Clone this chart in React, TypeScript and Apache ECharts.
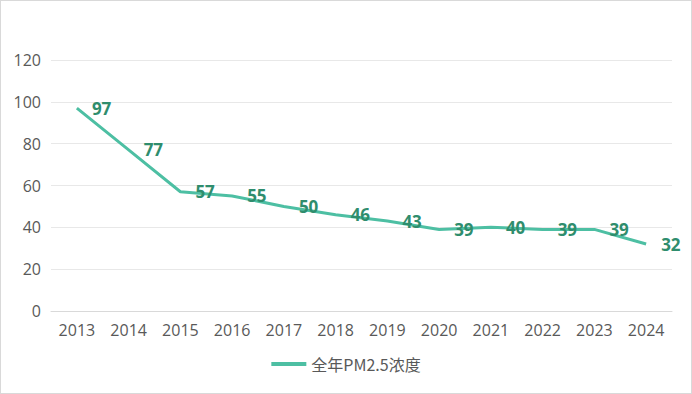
import React, { useEffect, useRef } from "react";
import * as echarts from "echarts";

const years = ["2013", "2014", "2015", "2016", "2017", "2018", "2019", "2020", "2021", "2022", "2023", "2024"];
const pm25 = [97, 77, 57, 55, 50, 46, 43, 39, 40, 39, 39, 32];
const seriesName = "全年PM2.5浓度";

export default function App() {
  const ref = useRef<HTMLDivElement>(null);
  useEffect(() => {
    if (!ref.current) return;
    const chart = echarts.init(ref.current, undefined, { renderer: "svg" });
    chart.setOption({
      animation: false,
      backgroundColor: "#ffffff",
      textStyle: { fontFamily: "'Open Sans', 'Noto Sans CJK SC', sans-serif" },
      grid: { left: 50, right: 19, top: 59, bottom: 82 },
      legend: {
        bottom: 16,
        left: "center",
        itemWidth: 35,
        itemHeight: 4,
        itemGap: 10,
        icon: "rect",
        textStyle: { color: "#595959", fontSize: 16, fontFamily: "'Noto Sans CJK SC', 'Open Sans', sans-serif" },
        data: [seriesName],
      },
      xAxis: {
        type: "category",
        data: years,
        boundaryGap: true,
        axisLine: { lineStyle: { color: "#d9d9d9" } },
        axisTick: { show: false },
        axisLabel: { color: "#595959", fontSize: 16, margin: 11 },
      },
      yAxis: {
        type: "value",
        min: 0,
        max: 120,
        interval: 20,
        axisLine: { show: false },
        axisTick: { show: false },
        splitLine: { lineStyle: { color: "#e8e8e8" } },
        axisLabel: { color: "#595959", fontSize: 16, margin: 10 },
      },
      series: [
        {
          name: seriesName,
          type: "line",
          data: pm25,
          symbol: "circle",
          symbolSize: 0,
          showSymbol: true,
          lineStyle: { color: "#4dbfa3", width: 3 },
          itemStyle: { color: "#4dbfa3" },
          label: {
            show: true,
            position: "right",
            distance: 15,
            color: "#2f8d6d",
            fontSize: 17,
            fontWeight: "bold",
          },
        },
      ],
    });
    return () => chart.dispose();
  }, []);
  return (
    <div
      ref={ref}
      style={{
        position: "absolute",
        left: 0,
        top: 0,
        width: 692,
        height: 394,
        boxSizing: "border-box",
        border: "1px solid #d9d9d9",
      }}
    />
  );
}
